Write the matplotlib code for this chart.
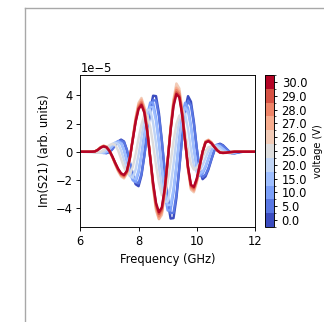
import matplotlib
import numpy as np

matplotlib.use('Agg')
import matplotlib.pyplot as plt
from matplotlib.colors import BoundaryNorm, ListedColormap
from matplotlib.lines import Line2D
from matplotlib.cm import ScalarMappable

# frequency grid (GHz) on which Im(S21) was read, values in units of 1e-5
FREQ_GHZ = [6.4, 6.5, 6.6, 6.7, 6.8, 6.9, 7.0, 7.1, 7.2, 7.3, 7.4, 7.5, 7.6,
            7.7, 7.8, 7.9, 8.0, 8.1, 8.2, 8.3, 8.4, 8.5, 8.6, 8.7, 8.8, 8.9,
            9.0, 9.1, 9.2, 9.3, 9.4, 9.5, 9.6, 9.7, 9.8, 9.9, 10.0, 10.1,
            10.2, 10.3, 10.4, 10.5, 10.6, 10.7, 10.8, 10.9, 11.0, 11.1, 11.2,
            11.3, 11.4, 11.5, 11.6]
F_MIN, F_MAX = 6.0, 12.0

VOLTAGES = [0.0, 5.0, 10.0, 15.0, 20.0, 25.0, 26.0, 27.0, 28.0, 29.0, 30.0]

im_0v = [0, 0, -.02, -.05, -.08, -.10, -.02, .20, .49, .73, .86, .73, .12,
         -.79, -1.70, -2.31, -2.45, -1.68, -.26, 1.47, 2.99, 3.98, 3.95, 2.73,
         .78, -1.47, -3.43, -4.75, -4.72, -3.30, -1.20, 1.14, 3.03, 3.95, 3.55,
         2.13, .24, -1.34, -1.95, -1.76, -1.26, -.58, .06, .49, .57, .46, .25,
         .04, -.10, -.11, -.07, -.02, 0]
im_5v = [0, 0, -.02, -.05, -.07, -.09, -.02, .18, .45, .67, .79, .67, .11,
         -.73, -1.56, -2.13, -2.25, -1.55, -.24, 1.35, 2.75, 3.66, 3.63, 2.51,
         .72, -1.35, -3.16, -4.37, -4.34, -3.04, -1.10, 1.05, 2.79, 3.63, 3.27,
         1.96, .22, -1.23, -1.79, -1.62, -1.16, -.53, .06, .45, .52, .42, .23,
         .04, -.09, -.10, -.06, -.02, 0]
im_10v = [0, -.02, -.04, -.07, -.09, -.02, .18, .43, .64, .76, .64, .11,
          -.70, -1.50, -2.03, -2.16, -1.48, -.23, 1.29, 2.63, 3.50, 3.48, 2.40,
          .69, -1.29, -3.02, -4.18, -4.15, -2.90, -1.06, 1.00, 2.67, 3.48, 3.12,
          1.87, .21, -1.18, -1.72, -1.55, -1.11, -.51, .05, .43, .50, .40, .22,
          .04, -.09, -.10, -.06, -.02, 0, 0]
im_15v = [0, -.02, -.04, -.06, -.08, -.02, .16, .39, .58, .69, .58, .10,
          -.63, -1.36, -1.85, -1.96, -1.34, -.21, 1.18, 2.39, 3.18, 3.16, 2.18,
          .62, -1.18, -2.74, -3.80, -3.78, -2.64, -.96, .91, 2.42, 3.16, 2.84,
          1.70, .19, -1.07, -1.56, -1.41, -1.01, -.46, .05, .39, .46, .37, .20,
          .03, -.08, -.09, -.06, -.02, 0, 0]
im_20v = [-.02, -.04, -.06, -.08, -.02, .15, .37, .55, .65, .55, .09, -.59,
          -1.28, -1.73, -1.84, -1.26, -.20, 1.10, 2.24, 2.99, 2.96, 2.05, .59,
          -1.10, -2.57, -3.56, -3.54, -2.48, -.90, .86, 2.27, 2.96, 2.66, 1.60,
          .18, -1.01, -1.46, -1.32, -.95, -.44, .05, .37, .43, .35, .19, .03,
          -.08, -.08, -.05, -.02, 0, 0, 0]
im_25v = [-.03, -.05, -.07, -.01, .13, .32, .47, .56, .47, .08, -.51, -1.11,
          -1.50, -1.59, -1.09, -.17, .96, 1.94, 2.59, 2.57, 1.77, .51, -.96,
          -2.23, -3.09, -3.07, -2.15, -.78, .74, 1.97, 2.57, 2.31, 1.38, .16,
          -.87, -1.27, -1.14, -.82, -.38, .04, .32, .37, .30, .16, .03, -.07,
          -.07, -.05, -.01, 0, 0, 0, 0]
im_26v = [0, .02, .15, .33, .44, .36, .07, -.39, -.92, -1.40, -1.76, -1.90,
          -1.56, -.52, .97, 2.44, 3.48, 3.82, 3.17, 1.62, -.46, -2.56, -4.19,
          -4.80, -4.50, -3.00, -.71, 1.75, 3.71, 4.85, 4.50, 2.99, .84, -1.28,
          -2.70, -2.88, -2.20, -1.12, 0, .75, .86, .69, .40, .12, -.07, -.09,
          -.08, -.05, -.02, 0, 0, 0, 0]
im_27v = [0, .02, .14, .32, .42, .34, .07, -.38, -.89, -1.35, -1.70, -1.83,
          -1.51, -.50, .93, 2.35, 3.36, 3.69, 3.06, 1.57, -.44, -2.48, -4.04,
          -4.77, -4.38, -2.90, -.69, 1.69, 3.59, 4.55, 4.30, 2.89, .81, -1.23,
          -2.61, -2.78, -2.12, -1.08, 0, .72, .83, .67, .39, .11, -.07, -.09,
          -.08, -.04, -.02, 0, 0, 0, 0]
im_28v = [0, .02, .14, .31, .41, .33, .06, -.36, -.86, -1.31, -1.64, -1.77,
          -1.46, -.48, .90, 2.27, 3.24, 3.55, 2.95, 1.51, -.43, -2.39, -3.89,
          -4.60, -4.23, -2.79, -.66, 1.63, 3.46, 4.39, 4.14, 2.78, .78, -1.19,
          -2.51, -2.68, -2.04, -1.04, 0, .70, .80, .64, .37, .11, -.06, -.09,
          -.07, -.04, -.02, 0, 0, 0, 0]
im_29v = [0, .02, .13, .30, .39, .32, .06, -.35, -.82, -1.26, -1.58, -1.70,
          -1.40, -.46, .87, 2.18, 3.12, 3.42, 2.84, 1.45, -.41, -2.30, -3.75,
          -4.43, -4.07, -2.69, -.64, 1.57, 3.33, 4.22, 3.99, 2.68, .75, -1.14,
          -2.42, -2.58, -1.97, -1.00, 0, .67, .77, .62, .36, .10, -.06, -.08,
          -.07, -.04, -.02, 0, 0, 0, 0]
im_30v = [0, .02, .13, .29, .38, .31, .06, -.34, -.80, -1.22, -1.53, -1.65,
          -1.36, -.45, .84, 2.12, 3.03, 3.32, 2.76, 1.41, -.40, -2.23, -3.64,
          -4.30, -3.95, -2.61, -.62, 1.52, 3.23, 4.10, 3.87, 2.60, .73, -1.11,
          -2.35, -2.50, -1.91, -.97, 0, .65, .75, .60, .35, .10, -.06, -.08,
          -.07, -.04, -.02, 0, 0, 0, 0]

CURVES = [im_0v, im_5v, im_10v, im_15v, im_20v, im_25v,
          im_26v, im_27v, im_28v, im_29v, im_30v]

DPI = 83
fig = plt.figure(figsize=(324 / DPI, 322 / DPI), dpi=DPI)
ax = fig.add_axes([0.248, 0.295, 0.539, 0.472])
cax = fig.add_axes([0.818, 0.295, 0.028, 0.472])

colors = plt.cm.coolwarm(np.linspace(0, 1, len(VOLTAGES)))
freq = np.array([F_MIN] + FREQ_GHZ + [F_MAX])
for values, color in zip(CURVES, colors):
    y = np.array([0.0] + values + [0.0]) * 1e-5
    ax.plot(freq, y, color=color, lw=2.1)

ax.set_xlim(F_MIN, F_MAX)
ax.set_ylim(-5.35e-5, 5.45e-5)
ax.set_xticks([6, 8, 10, 12])
ax.set_yticks(np.array([-4, -2, 0, 2, 4]) * 1e-5)
ax.set_xlabel('Frequency (GHz)')
ax.set_ylabel('Im(S21) (arb. units)')

# discrete colorbar, one equal-sized cell per voltage
cmap = ListedColormap(colors)
norm = BoundaryNorm(np.arange(-0.5, len(VOLTAGES) + 0.5), cmap.N)
sm = ScalarMappable(norm=norm, cmap=cmap)
cbar = fig.colorbar(sm, cax=cax, ticks=range(len(VOLTAGES)))
cbar.ax.set_yticklabels([f'{v:.1f}' for v in VOLTAGES])
cbar.ax.tick_params(length=3)
cbar.set_label('voltage (V)', fontsize=8.5, labelpad=5)

# thin grey frame along the left and top edges
fx, fy = 24.5 / 324, 1 - 7.5 / 322
fig.add_artist(Line2D([fx, fx], [0, fy], color='#a8a8a8', lw=1.2))
fig.add_artist(Line2D([fx, 1], [fy, fy], color='#a8a8a8', lw=1.2))

plt.savefig('out.png', dpi=DPI)
plt.close()
